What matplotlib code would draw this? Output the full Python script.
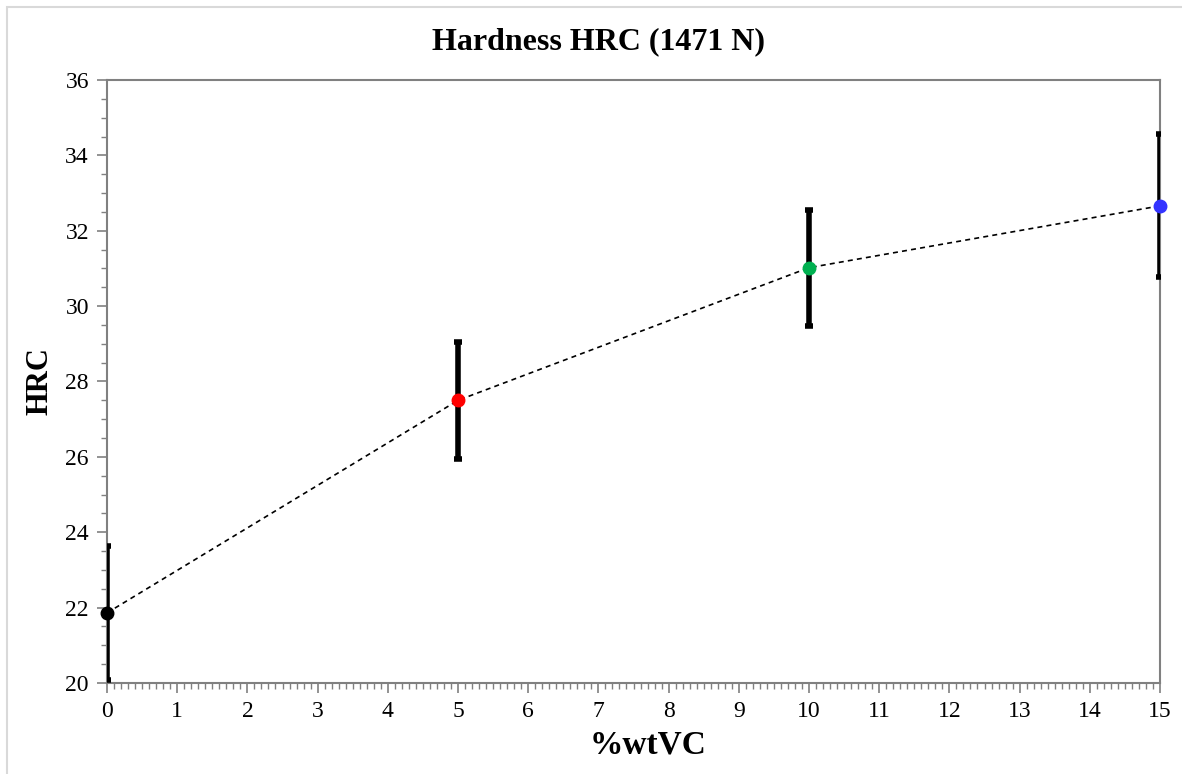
import matplotlib
matplotlib.use("Agg")
import matplotlib.pyplot as plt
from matplotlib.ticker import MultipleLocator
from matplotlib.patches import Rectangle

# Hardness measurements (HRC at 1471 N) vs vanadium carbide content
vc_wt = [0, 5, 10, 15]
hrc_mean = [21.86, 27.50, 31.02, 32.66]
hrc_err = [1.78, 1.56, 1.54, 1.90]
point_colors = ["#000000", "#FF0000", "#00B050", "#3333FF"]

plt.rcParams["font.family"] = ["Liberation Serif", "DejaVu Serif"]

fig = plt.figure(figsize=(11.82, 7.74), dpi=100)
fig.patches.append(Rectangle((7 / 1182, -0.05), 1.1, 1 + 0.05 - 7 / 774,
                             transform=fig.transFigure, fill=False,
                             edgecolor="#d9d9d9", linewidth=1.5, zorder=0))

ax = fig.add_axes([107 / 1182, 91 / 774, (1160 - 107) / 1182, (683 - 80) / 774])

ax.plot(vc_wt, hrc_mean, linestyle=(0, (3, 2.5)), color="black", linewidth=1.2, zorder=2)
ax.errorbar(vc_wt, hrc_mean, yerr=hrc_err, fmt="none", ecolor="black",
            elinewidth=4, capsize=3, capthick=4, zorder=3)
for x, y, c in zip(vc_wt, hrc_mean, point_colors):
    ax.plot(x, y, "o", color=c, markersize=9, zorder=4, clip_on=False)

ax.set_xlim(0, 15)
ax.set_ylim(20, 36)
ax.xaxis.set_major_locator(MultipleLocator(1))
ax.xaxis.set_minor_locator(MultipleLocator(0.1))
ax.yaxis.set_major_locator(MultipleLocator(2))
ax.yaxis.set_minor_locator(MultipleLocator(0.5))

for s in ax.spines.values():
    s.set_color("#808080")
    s.set_linewidth(1.5)
ax.tick_params(which="major", direction="out", length=7, width=1.2, color="#808080",
               labelsize=17, pad=6)
ax.tick_params(which="minor", direction="out", length=4, width=1, color="#808080")

fig.text(598 / 1182, 1 - 42 / 774, "Hardness HRC (1471 N)", fontsize=23,
         fontweight="bold", ha="center", va="center")
ax.set_xlabel("%wtVC", fontsize=24, fontweight="bold", va="center")
ax.xaxis.set_label_coords(648 / 1182, 1 - 745 / 774, transform=fig.transFigure)
ax.set_ylabel("HRC", fontsize=22, fontweight="bold", labelpad=8)

fig.savefig("out.png", dpi=100)
